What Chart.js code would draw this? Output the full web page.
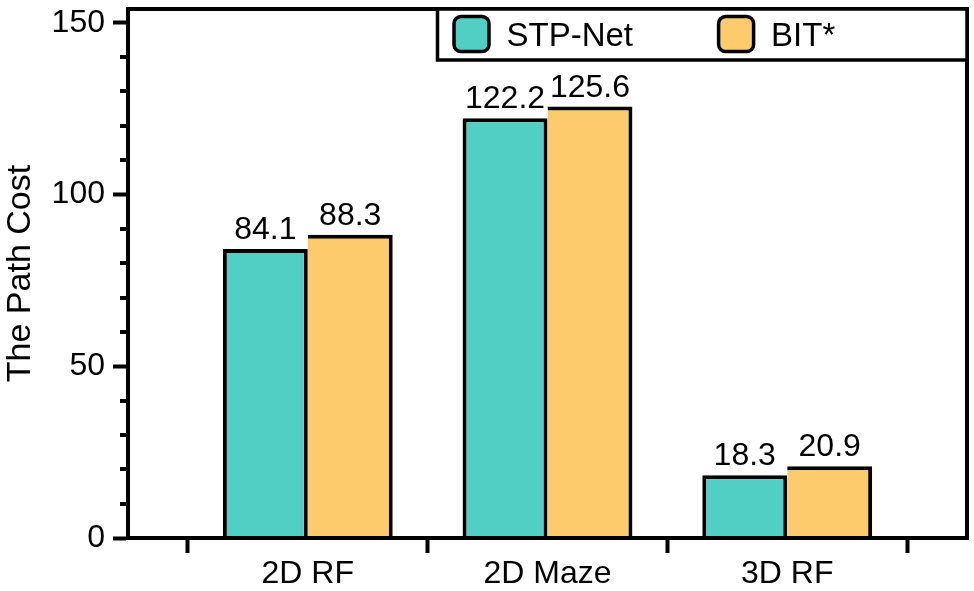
<!DOCTYPE html>
<html><head><meta charset="utf-8">
<script src="https://cdn.jsdelivr.net/npm/chart.js@4.4.1/dist/chart.umd.min.js"></script>
<style>html,body{margin:0;padding:0;background:#fff}#wrap{width:974px;height:591px;position:relative}</style>
</head><body><div id="wrap"><canvas id="c"></canvas></div>
<script>
const categories = ['2D RF', '2D Maze', '3D RF'];
const seriesNames = ['STP-Net', 'BIT*'];
const stpNet = [84.1, 122.2, 18.3];
const bitStar = [88.3, 125.6, 20.9];
const yTicks = [0, 50, 100, 150];
const yMinorTicks = [10, 20, 30, 40, 60, 70, 80, 90, 110, 120, 130, 140];
const xBoundaryTicks = [0.5, 1.5, 2.5, 3.5];
const yAxisTitle = 'The Path Cost';
const seriesColors = ['#51CFC4', '#FDCB6B'];

const FONT = "'Liberation Sans', Arial, Helvetica, sans-serif";
const LW = 4;

const frameAndLabels = {
  id: 'frameAndLabels',
  afterDatasetsDraw(chart) {
    const ctx = chart.ctx;
    const a = chart.chartArea;
    const ys = chart.scales.y;
    ctx.save();
    ctx.strokeStyle = '#000';
    ctx.lineWidth = LW;
    ctx.lineCap = 'butt';
    // minor y ticks
    yMinorTicks.forEach(v => {
      const py = Math.round(ys.getPixelForValue(v));
      ctx.beginPath();
      ctx.moveTo(a.left - 8, py);
      ctx.lineTo(a.left, py);
      ctx.stroke();
    });
    // frame
    ctx.lineJoin = 'miter';
    ctx.strokeRect(a.left, a.top, a.right - a.left, a.bottom - a.top);
    // value labels
    ctx.fillStyle = '#000';
    ctx.font = '32px ' + FONT;
    ctx.textAlign = 'center';
    ctx.textBaseline = 'alphabetic';
    chart.data.datasets.forEach((ds, di) => {
      const meta = chart.getDatasetMeta(di);
      meta.data.forEach((bar, i) => {
        ctx.fillText(ds.data[i].y.toFixed(1), bar.x, bar.y - 10);
      });
    });
    // legend box
    const lx = 437.5, ly = a.top, lb = 60;
    ctx.fillStyle = '#fff';
    ctx.fillRect(lx, ly, a.right - lx, lb - ly);
    ctx.lineWidth = 3.5;
    ctx.strokeRect(lx, ly, a.right - lx, lb - ly);
    chart.data.datasets.forEach((ds, di) => {
      const sx = 454 + di * 264.6, sy = 16.5, sw = 35, r = 7;
      ctx.beginPath();
      ctx.roundRect(sx, sy, sw, sw, r);
      ctx.fillStyle = ds.backgroundColor;
      ctx.fill();
      ctx.lineWidth = 3.5;
      ctx.strokeStyle = '#000';
      ctx.stroke();
      ctx.fillStyle = '#000';
      ctx.font = '33px ' + FONT;
      ctx.textAlign = 'left';
      ctx.fillText(ds.label, 506.5 + di * 264.6, 45.5);
    });
    ctx.restore();
  }
};

const makePoints = arr => arr.map((v, i) => ({ x: i + 1, y: v }));

new Chart(document.getElementById('c'), {
  type: 'bar',
  data: {
    datasets: [
      { label: seriesNames[0], data: makePoints(stpNet), backgroundColor: seriesColors[0], borderColor: '#000',
        borderWidth: { left: LW, top: LW, right: LW, bottom: 0 }, borderSkipped: 'start', inflateAmount: 0 },
      { label: seriesNames[1], data: makePoints(bitStar), backgroundColor: seriesColors[1], borderColor: '#000',
        borderWidth: { left: 0, top: LW, right: LW, bottom: 0 }, borderSkipped: 'start', inflateAmount: 0 }
    ]
  },
  options: {
    responsive: true,
    maintainAspectRatio: false,
    animation: false,
    categoryPercentage: 1.417,
    barPercentage: 1,
    layout: { padding: { top: 9, right: 7, left: 0, bottom: 0 } },
    plugins: { legend: { display: false }, tooltip: { enabled: false } },
    scales: {
      x: {
        type: 'linear',
        min: 0.25, max: 3.75,
        offset: false,
        grid: { offset: false, drawOnChartArea: false, tickLength: 15, tickWidth: LW,
          tickColor: c => (c.tick && Number.isInteger(c.tick.value)) ? 'rgba(0,0,0,0)' : '#000' },
        border: { width: LW, color: '#000' },
        ticks: {
          color: '#000', font: { family: FONT, size: 32, lineHeight: 1.2 }, padding: 2,
          maxRotation: 0, autoSkip: false,
          callback: v => Number.isInteger(v) ? categories[v - 1] : ''
        },
        afterBuildTicks: s => {
          const vals = [];
          xBoundaryTicks.forEach((b, i) => { vals.push(b); if (i < categories.length) vals.push(i + 1); });
          s.ticks = vals.map(v => ({ value: v }));
        },
        afterFit: s => { s.height = 53; s.paddingLeft = 0; s.paddingRight = 0; }
      },
      y: {
        min: 0, max: 154,
        grid: { drawOnChartArea: false, tickLength: 15, tickWidth: LW, tickColor: '#000' },
        border: { width: LW, color: '#000' },
        ticks: { color: '#000', font: { family: FONT, size: 32, lineHeight: 1.2 }, padding: 8 },
        afterBuildTicks: s => { s.ticks = yTicks.map(v => ({ value: v })); },
        title: { display: true, text: yAxisTitle, color: '#000',
          font: { family: FONT, size: 34, lineHeight: 1 }, padding: { top: 4, bottom: 0 } },
        afterFit: s => { s.width = 128; s.paddingTop = 0; s.paddingBottom = 0; }
      }
    }
  },
  plugins: [frameAndLabels]
});
</script>
</body></html>
